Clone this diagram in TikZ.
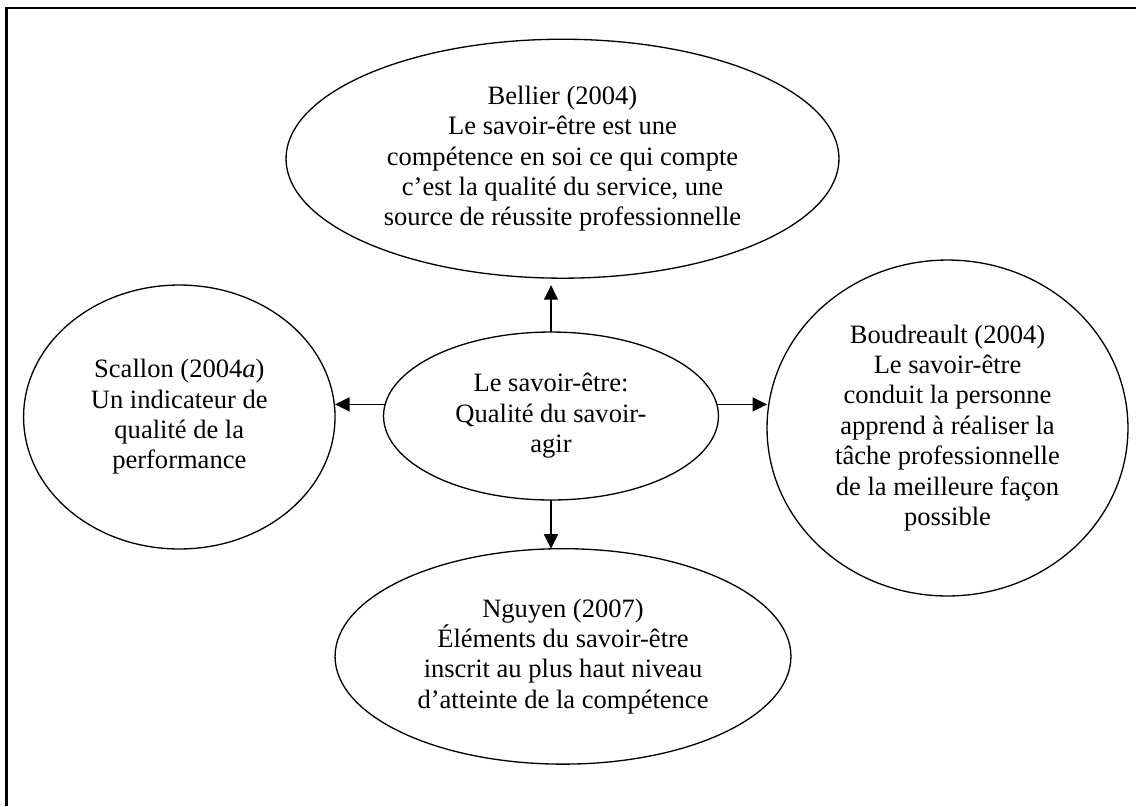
\documentclass[tikz,border=0pt]{standalone}
\usepackage{fontspec}
\setmainfont{Liberation Serif}
\usetikzlibrary{shapes.geometric,arrows.meta}

\begin{document}
\begin{tikzpicture}[x=0.02cm, y=-0.02cm,
    bubble/.style={ellipse, draw, line width=0.75pt, inner sep=0pt, outer sep=0pt,
      align=center, font=\fontsize{15.1pt}{17.3pt}\selectfont},
    link/.style={-{Triangle[length=0.29cm, width=0.28cm]}, line width=0.75pt}]
    \useasboundingbox (0,0) rectangle (1136,806);
    % Frame
    \draw[line width=1.15pt] (6.5,806) -- (6.5,8.3) -- (1136,8.3);
    % Nodes
    \node (ctr) [bubble, minimum width=6.7cm, minimum height=3.36cm] at (551,416)
      {Le savoir-être:\\Qualité du savoir-\\agir};
    \node (bel) [bubble, minimum width=11.06cm, minimum height=4.78cm] at (562.5,158.7)
      {Bellier (2004)\\Le savoir-être est une\\compétence en soi ce qui compte\\c’est la qualité du service, une\\source de réussite professionnelle};
    \node (scal) [bubble, minimum width=6.23cm, minimum height=5.28cm] at (179.3,417)
      {Scallon (2004\textit{a})\\Un indicateur de\\qualité de la\\performance};
    \node (boud) [bubble, minimum width=7.22cm, minimum height=6.72cm] at (947.5,428)
      {Boudreault (2004)\\Le savoir-être\\conduit la personne\\apprend à réaliser la\\tâche professionnelle\\de la meilleure façon\\possible};
    \node (ngu) [bubble, minimum width=9.12cm, minimum height=4.31cm] at (563,656.4)
      {Nguyen (2007)\\Éléments du savoir-être\\inscrit au plus haut niveau\\d’atteinte de la compétence};
    % Arrows
    \draw[link, shorten >=0.14cm] (ctr.north) -- (ctr.north |- bel.south);
    \draw[link] (ctr.176) -- (ctr.176 -| scal.east);
    \draw[link] (ctr.4) -- (ctr.4 -| boud.west);
    \draw[link] (ctr.south) -- (ctr.south |- ngu.north);
\end{tikzpicture}
\end{document}
